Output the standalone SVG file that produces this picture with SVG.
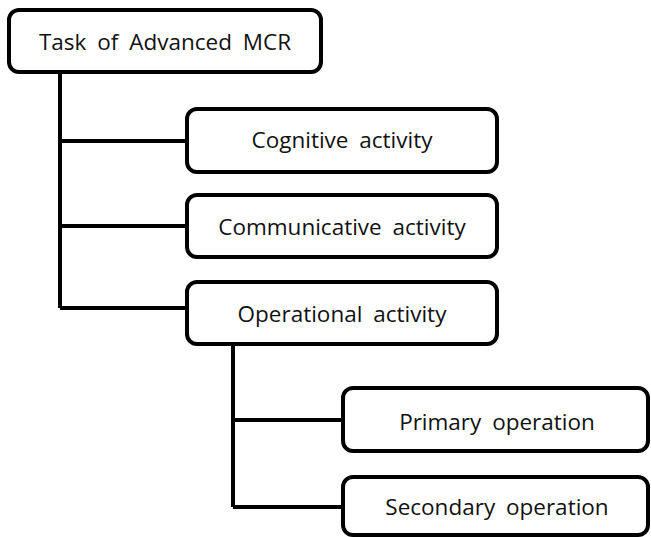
<svg xmlns="http://www.w3.org/2000/svg" width="651" height="537" viewBox="0 0 651 537">
<style>
.box{fill:#fff;stroke:#000;stroke-width:4}
.lbl{font-family:"Open Sans","Noto Sans","Liberation Sans",sans-serif;font-size:22.5px;fill:#111;text-anchor:middle;word-spacing:5px}
.ln{fill:none;stroke:#000;stroke-width:4}
</style>
<rect width="651" height="537" fill="#fff"/>
<g id="connectors">
<path class="ln" d="M60 72 V308 M60 141 H187 M60 226 H187 M60 308 H187"/>
<path class="ln" d="M233 344 V507 M233 420 H343 M233 507 H343"/>
</g>
<g id="root"><rect class="box" x="9" y="10" width="312" height="62" rx="10"/><text class="lbl" x="165" y="50">Task of Advanced MCR</text></g>
<g id="cognitive"><rect class="box" x="187" y="109" width="310" height="63" rx="10"/><text class="lbl" x="342" y="148">Cognitive activity</text></g>
<g id="communicative"><rect class="box" x="187" y="195" width="310" height="62" rx="10"/><text class="lbl" x="342" y="235">Communicative activity</text></g>
<g id="operational"><rect class="box" x="187" y="282" width="310" height="62" rx="10"/><text class="lbl" x="342" y="322">Operational activity</text></g>
<g id="primary"><rect class="box" x="343" y="388" width="305" height="63" rx="10"/><text class="lbl" x="497" y="430">Primary operation</text></g>
<g id="secondary"><rect class="box" x="343" y="477" width="305" height="58" rx="10"/><text class="lbl" x="497" y="515">Secondary operation</text></g>
</svg>
